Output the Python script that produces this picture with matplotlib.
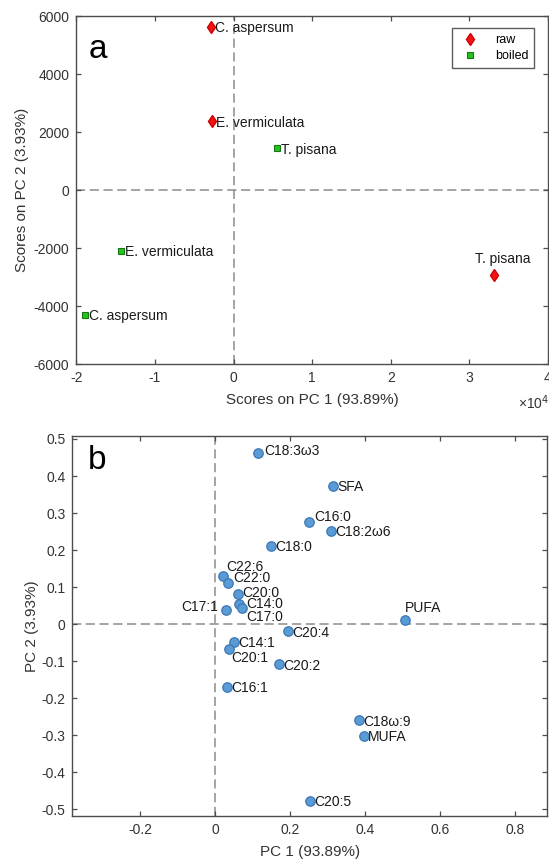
import numpy as np
import matplotlib.pyplot as plt
from matplotlib.ticker import FuncFormatter, MultipleLocator

plt.rcParams['font.family'] = ['Liberation Sans', 'DejaVu Sans']
plt.rcParams['axes.unicode_minus'] = False

# ── Data: panel a, PCA scores ────────────────────────────────────────────────
species     = ["C. aspersum", "E. vermiculata", "T. pisana"]
raw_pc1     = [-2860, -2770, 33130]
raw_pc2     = [5620, 2370, -2920]
boiled_pc1  = [-18860, -14280, 5500]
boiled_pc2  = [-4310, -2090, 1440]

# ── Data: panel b, PCA loadings ──────────────────────────────────────────────
fatty_acids = ["C18:3ω3", "SFA", "C16:0", "C18:2ω6", "C18:0", "C22:6", "C22:0",
               "C20:0", "C14:0", "C17:0", "C17:1", "PUFA", "C20:4", "C14:1",
               "C20:1", "C20:2", "C16:1", "C18ω:9", "MUFA", "C20:5"]
load_pc1 = [0.114, 0.315, 0.250, 0.308, 0.148, 0.022, 0.035,
            0.061, 0.064, 0.071, 0.030, 0.505, 0.193, 0.050,
            0.037, 0.171, 0.031, 0.383, 0.397, 0.253]
load_pc2 = [0.463, 0.373, 0.277, 0.252, 0.212, 0.129, 0.111,
            0.081, 0.055, 0.045, 0.039, 0.012, -0.019, -0.048,
            -0.066, -0.108, -0.169, -0.259, -0.302, -0.477]

TXT   = "#1a1a1a"
AXC   = "#4d4d4d"
DASH  = "#8c8c8c"


def style_axes(ax):
    for s in ax.spines.values():
        s.set_color(AXC)
        s.set_linewidth(1.0)
    ax.tick_params(direction="in", top=True, right=True, length=3.5,
                   width=0.9, color=AXC, labelcolor="#333333",
                   labelsize=10, pad=5)
    ax.axhline(0, color=DASH, lw=1.1, ls=(0, (6, 3)), zorder=1)
    ax.axvline(0, color=DASH, lw=1.1, ls=(0, (6, 3)), zorder=1)


fig = plt.figure(figsize=(5.49, 8.61), dpi=100)

# ── Panel a ───────────────────────────────────────────────────────────────────
ax = fig.add_axes([0.139, 0.5772, 0.859, 0.4042])
style_axes(ax)
ax.plot(raw_pc1, raw_pc2, ls="none", marker="d", ms=6.5, color="#f01414",
        mec="#d00000", label="raw", zorder=3)
ax.plot(boiled_pc1, boiled_pc2, ls="none", marker="s", ms=4.5, color="#22c422",
        mec="#137a13", mew=0.8, label="boiled", zorder=3)

for i, name in enumerate(species):
    if name == "T. pisana":
        ax.annotate(name, (raw_pc1[i], raw_pc2[i]), xytext=(6.5, 11),
                    textcoords="offset points", ha="center", va="center",
                    fontsize=10, color=TXT)
    else:
        ax.annotate(name, (raw_pc1[i], raw_pc2[i]), xytext=(3, -1),
                    textcoords="offset points", ha="left", va="center",
                    fontsize=10, color=TXT)
    ax.annotate(name, (boiled_pc1[i], boiled_pc2[i]), xytext=(3, -1),
                textcoords="offset points", ha="left", va="center",
                fontsize=10, color=TXT)

ax.set_xlim(-20000, 40000)
ax.set_ylim(-6000, 6000)
ax.xaxis.set_major_locator(MultipleLocator(10000))
ax.yaxis.set_major_locator(MultipleLocator(2000))
ax.xaxis.set_major_formatter(FuncFormatter(lambda v, p: f"{v/1e4:g}"))
ax.set_xlabel("Scores on PC 1 (93.89%)", fontsize=11, color="#333333", labelpad=5.5)
ax.set_ylabel("Scores on PC 2 (3.93%)", fontsize=11, color="#333333", labelpad=3)
ax.text(0.027, 0.905, "a", transform=ax.transAxes, fontsize=24, ha="left",
        va="center", color="black")
fig.text(0.972, 0.532, "×10$^4$", fontsize=10, color="#333333",
         ha="center", va="center")

leg = ax.legend(loc="upper right", bbox_to_anchor=(534.3 / 549, 1 - 28.3 / 861),
                bbox_transform=fig.transFigure, fontsize=9, frameon=True,
                fancybox=False, borderpad=0.45, handletextpad=1.0,
                labelspacing=0.35, borderaxespad=0)
leg.get_frame().set_edgecolor("#333333")
leg.get_frame().set_linewidth(1.0)

# ── Panel b ───────────────────────────────────────────────────────────────────
bx = fig.add_axes([0.1319, 0.0517, 0.8645, 0.4419])
style_axes(bx)
bx.plot(load_pc1, load_pc2, ls="none", marker="o", ms=6.8, color="#5b9bd5",
        mec="#3a78b5", mew=0.9, zorder=3)

# label offsets in points (dx, dy, ha); default is to the right
special = {
    "C22:6": (1.8, 6.5, "left"),
    "C22:0": (3.2, 3.6, "left"),
    "C20:0": (3.0, 1.0, "left"),
    "C14:0": (5.0, 0.0, "left"),
    "C17:0": (3.5, -6.7, "left"),
    "C17:1": (-6.3, 1.7, "right"),
    "PUFA":  (0.5, 8.4, "left"),
    "C20:1": (1.3, -7.0, "left"),
    "C16:0": (3.5, 3.0, "left"),
    "C18:3ω3": (4.3, 1.5, "left"),
}
for i, name in enumerate(fatty_acids):
    dx, dy, ha = special.get(name, (3.0, -1.0, "left"))
    bx.annotate(name, (load_pc1[i], load_pc2[i]), xytext=(dx, dy),
                textcoords="offset points", ha=ha, va="center",
                fontsize=10, color=TXT)

bx.set_xlim(-0.381, 0.885)
bx.set_ylim(-0.519, 0.508)
bx.xaxis.set_major_locator(MultipleLocator(0.2))
bx.yaxis.set_major_locator(MultipleLocator(0.1))
fmt = FuncFormatter(lambda v, p: f"{round(v, 3):g}")
bx.xaxis.set_major_formatter(fmt)
bx.yaxis.set_major_formatter(fmt)
bx.set_xlabel("PC 1 (93.89%)", fontsize=11, color="#333333", labelpad=5.5)
bx.set_ylabel("PC 2 (3.93%)", fontsize=11, color="#333333", labelpad=1.5)
bx.text(0.032, 0.935, "b", transform=bx.transAxes, fontsize=24, ha="left",
        va="center", color="black")

fig.savefig("out.png", dpi=100)
